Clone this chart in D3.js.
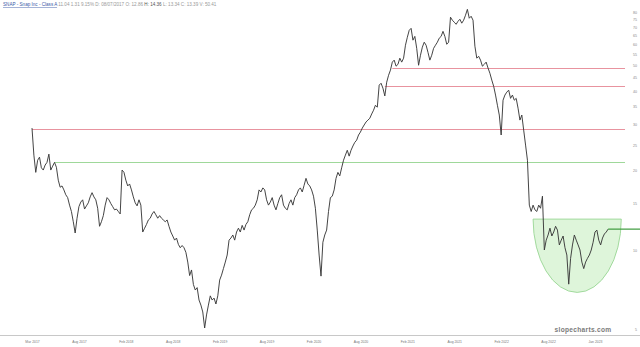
<!DOCTYPE html>
<html><head><meta charset="utf-8">
<script src="https://cdn.jsdelivr.net/npm/d3@7"></script>
<style>
html,body{margin:0;padding:0;background:#fff;}
svg{display:block;font-family:"Liberation Sans",Arial,sans-serif;}
</style></head>
<body>
<svg id="chart" width="640" height="347"></svg>
<script>
// Weekly closing prices of SNAP, Mar 2017 -> spring 2023
const closes = [
29.0,22.9,19.7,21.9,22.5,20.5,20.1,21.0,21.5,23.1,
20.1,20.8,21.5,20.6,18.4,17.3,17.5,16.9,16.2,15.8,
14.8,14.0,12.8,11.6,13.2,14.6,15.2,15.5,14.3,14.7,
15.1,15.9,16.5,15.9,15.5,14.4,12.3,12.8,13.5,14.8,
15.8,15.5,15.0,14.6,14.2,14.3,14.0,13.7,20.1,19.7,
18.4,17.5,17.8,16.9,15.9,15.1,14.7,15.5,14.8,11.7,
12.1,12.5,13.0,13.2,13.7,14.0,13.6,13.2,13.5,13.2,
13.0,12.8,13.0,12.3,11.7,11.3,10.9,11.1,10.5,10.2,
10.4,10.2,9.8,9.0,8.0,8.4,7.4,7.05,7.2,6.46,
6.18,5.82,5.06,5.67,6.18,6.7,6.46,6.57,6.24,6.7,
7.69,8.03,8.5,9.0,9.57,10.9,11.1,11.4,10.9,11.7,
12.1,11.7,12.4,11.9,12.5,12.8,13.6,14.2,14.4,14.8,
15.5,16.9,16.6,17.2,16.9,15.5,14.8,15.2,15.8,14.8,
14.2,15.0,15.8,16.2,14.8,14.4,14.2,15.0,15.5,14.8,
15.8,16.2,16.9,17.2,16.6,17.6,18.7,17.8,17.5,16.9,
16.0,14.4,11.9,9.57,7.96,10.7,11.4,11.9,14.0,15.8,
16.0,16.9,18.7,19.7,19.1,20.5,21.9,22.9,23.9,22.7,
23.9,24.8,25.6,26.1,27.3,28.0,29.0,29.8,30.6,31.1,
31.6,32.8,33.9,35.4,34.8,42.2,42.9,41.1,38.4,43.3,
46.0,48.1,51.6,52.5,49.8,50.6,53.4,51.6,53.4,59.8,
64.1,68.1,69.3,62.5,64.6,58.2,50.2,54.8,58.8,61.4,
59.8,56.2,52.5,54.8,58.2,59.8,61.4,63.6,64.6,67.5,
64.6,60.3,61.4,76.4,74.4,73.1,71.8,73.7,75.0,72.5,
74.4,77.7,81.8,75.7,77.0,74.4,59.3,53.4,54.3,52.5,
49.8,50.6,51.6,49.0,46.8,44.1,41.8,38.7,35.4,32.5,
27.3,37.0,38.7,39.7,40.4,37.6,38.7,37.0,37.6,34.5,
31.1,32.5,28.5,25.0,21.9,14.8,14.0,14.8,14.2,14.0,
14.8,14.4,16.0,10.0,10.9,11.4,12.1,11.3,11.7,12.3,
11.9,10.45,10.9,11.3,10.2,9.57,7.42,9.3,10.45,11.4,
10.9,10.45,10.0,9.0,8.5,9.0,9.3,9.57,10.0,10.7,
11.7,11.9,10.9,10.45,11.1,11.5,11.7,12.0
];

// x-axis tick labels (week index of each label)
const tickWeeks  = [0,25,50,75,100,125,150,175,200,225,250,275,300];
const tickLabels = ["Mar 2017","Aug 2017","Feb 2018","Aug 2018","Feb 2019","Aug 2019",
                    "Feb 2020","Aug 2020","Feb 2021","Aug 2021","Feb 2022","Aug 2022","Jan 2023"];

// y-axis (price) tick labels
const priceTicks = [5,10,15,20,25,30,35,40,45,50,55,60,65,70,75,80];

// horizontal support/resistance lines: price level and starting week
const levelPrices = [49.0, 41.9, 28.8, 21.6];
const levelStarts = [192, 188, 0, 12];
const levelKinds  = ["red","red","red","green"];
const levelEndWeek = 316;

// cup (rounded base) drawn in price/week coordinates
const cupWeeks  = [267, 314];
const cupPrices = [13.1, 6.9];

// breakout line
const breakoutPrice = 12.0;
const breakoutStart = 307;

const svg = d3.select("#chart");
const W = 640, H = 347;

const x = d3.scaleLinear().domain([0, 300]).range([32, 595]);
const y = d3.scaleLog().domain([10, 80]).range([250, 11.9]);

// bottom rule
svg.append("line").attr("x1",0).attr("x2",W).attr("y1",335.5).attr("y2",335.5)
  .attr("stroke","#c8c8c8").attr("stroke-width",1);

// level lines
const levelColor = {red:"#e8939f", green:"#9fd89a"};
svg.append("g").selectAll("line").data(levelPrices).join("line")
  .attr("x1",(d,i)=>x(levelStarts[i])).attr("x2",x(levelEndWeek))
  .attr("y1",d=>Math.round(y(d))+0.5).attr("y2",d=>Math.round(y(d))+0.5)
  .attr("stroke",(d,i)=>levelColor[levelKinds[i]]).attr("stroke-width",1);

// cup
const cx0 = x(cupWeeks[0]), cx1 = x(cupWeeks[1]);
const cyTop = y(cupPrices[0]), cyBot = y(cupPrices[1]);
const rx = (cx1-cx0)/2, ry = cyBot-cyTop;
svg.append("path")
  .attr("d",`M${cx0},${cyTop} L${cx1},${cyTop} A${rx},${ry} 0 0 1 ${cx0},${cyTop} Z`)
  .attr("fill","#cdf0c6").attr("fill-opacity",0.65)
  .attr("stroke","#8fd28a").attr("stroke-width",0.8);

// price series
const line = d3.line().x((d,i)=>x(i)).y(d=>y(d)).curve(d3.curveLinear);
svg.append("path").datum(closes).attr("d",line)
  .attr("fill","none").attr("stroke","#3a3a3a").attr("stroke-width",0.95)
  .attr("stroke-linejoin","miter");

// breakout line
svg.append("line").attr("x1",x(breakoutStart)).attr("x2",W)
  .attr("y1",y(breakoutPrice)).attr("y2",y(breakoutPrice))
  .attr("stroke","#3c9a3c").attr("stroke-width",1.2);

// y axis (right)
const yAxis = d3.axisLeft(y).tickValues(priceTicks).tickFormat(d3.format("d"))
  .tickSize(0).tickPadding(3);
const gy = svg.append("g").attr("transform",`translate(${W},0)`).call(yAxis);
gy.select(".domain").remove();
gy.selectAll("text").attr("font-size",3.6).attr("fill","#888")
  .attr("font-family","Liberation Sans, Arial, sans-serif");

// x axis
const xAxis = d3.axisBottom(x).tickValues(tickWeeks)
  .tickFormat((d,i)=>tickLabels[i]).tickSize(0).tickPadding(5);
const gx = svg.append("g").attr("transform","translate(0,336)").call(xAxis);
gx.select(".domain").remove();
gx.selectAll("text").attr("font-size",3.4).attr("fill","#777")
  .attr("font-family","Liberation Sans, Arial, sans-serif");

// header
const hdr = svg.append("text").attr("x",3).attr("y",6).attr("font-size",4.6)
  .attr("font-family","Liberation Sans, Arial, sans-serif");
hdr.append("tspan").text("SNAP - Snap Inc - Class A").attr("fill","#3b5ba8")
  .attr("text-decoration","underline");
hdr.append("tspan").text("  11.04  1.31  9.15%  D: 08/07/2017  O: 12.86 ").attr("fill","#999");
hdr.append("tspan").text("H: 14.36").attr("fill","#555");
hdr.append("tspan").text("  L: 13.34  C: 13.39  V: 50.41").attr("fill","#999");

// watermark
svg.append("text").attr("x",583).attr("y",332).attr("text-anchor","middle")
  .attr("font-size",6.6).attr("font-weight","bold").attr("fill","#7a7a7a")
  .attr("letter-spacing",0.3)
  .attr("font-family","Liberation Sans, Arial, sans-serif")
  .text("slopecharts.com");
</script>
</body></html>
